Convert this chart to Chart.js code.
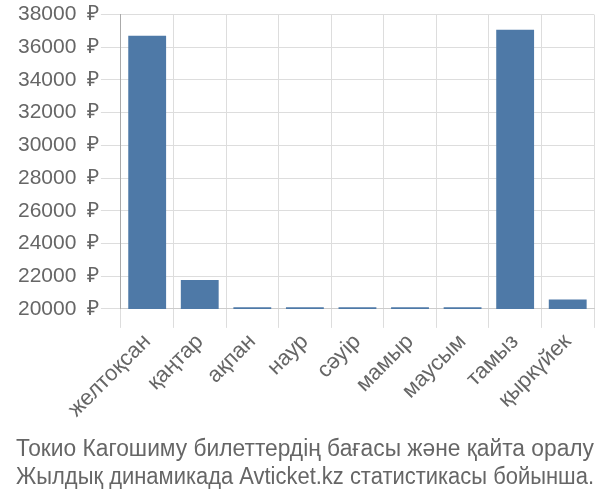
<!DOCTYPE html>
<html>
<head>
<meta charset="utf-8">
<script src="https://cdn.jsdelivr.net/npm/chart.js@4/dist/chart.umd.min.js"></script>
<style>
  html, body { margin: 0; padding: 0; background: #fff; }
  #wrap { width: 600px; height: 500px; }
</style>
</head>
<body>
<div id="wrap"><canvas id="chart"></canvas></div>
<script>
const months = ["желтоқсан", "қаңтар", "ақпан", "наур", "сәуір", "мамыр", "маусым", "тамыз", "қыркүйек"];
const prices = [36700, 21760, 20100, 20100, 20100, 20100, 20100, 37080, 20570];
const titleLines = [
    "Токио Кагошиму билеттердің бағасы және қайта оралу",
    "Жылдық динамикада Avticket.kz статистикасы бойынша."
];

Chart.defaults.font.family = '"Liberation Sans", Arial, sans-serif';
Chart.defaults.color = '#666';

const ctx = document.getElementById("chart").getContext("2d");
new Chart(ctx, {
    type: "bar",
    data: {
        labels: months,
        datasets: [{
            data: prices,
            backgroundColor: '#4e79a7',
            barPercentage: 0.72,
            categoryPercentage: 1.0
        }]
    },
    options: {
        responsive: true,
        maintainAspectRatio: false,
        animation: false,
        layout: { padding: { top: 4, right: 6, left: 16, bottom: 0 } },
        plugins: {
            legend: { display: false },
            tooltip: { enabled: false },
            title: {
                display: true,
                position: 'bottom',
                text: titleLines,
                color: '#666',
                font: { size: 23.5, weight: 'normal' },
                padding: { top: 12, bottom: 8 },
                lineHeight: 1.22
            }
        },
        scales: {
            x: {
                grid: { color: '#ddd', tickLength: 19, offset: true },
                border: { color: '#ccc' },
                ticks: {
                    font: { size: 22 },
                    maxRotation: 45,
                    minRotation: 45,
                    padding: 1,
                    color: '#666'
                }
            },
            y: {
                min: 20000,
                max: 38000,
                grid: { color: '#ddd', tickLength: 20 },
                border: { color: '#aaa' },
                ticks: {
                    stepSize: 2000,
                    font: { size: 21 },
                    color: '#666',
                    padding: 2,
                    callback: function(value) {
                        return value + '\u2002₽';
                    }
                }
            }
        }
    }
});
</script>
</body>
</html>
